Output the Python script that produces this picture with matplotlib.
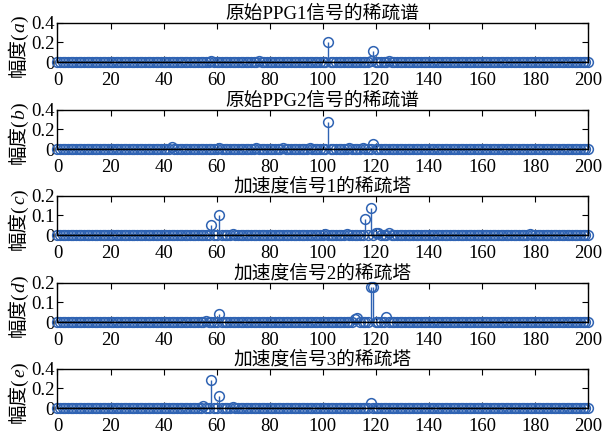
import numpy as np
import matplotlib
matplotlib.use('Agg')
import matplotlib.pyplot as plt
from matplotlib.ticker import FormatStrFormatter
from matplotlib.transforms import IdentityTransform

plt.rcParams['font.family'] = ['Liberation Serif', 'Noto Sans CJK SC']

n = np.arange(0, 201)

# sparse spectra: bin index -> amplitude
peaks_a = [58, 76, 102, 118, 119, 125]
amps_a = [0.015, 0.015, 0.2, 0.01, 0.11, 0.015]

peaks_b = [43, 61, 75, 85, 95, 102, 110, 115, 119]
amps_b = [0.02, 0.015, 0.015, 0.01, 0.015, 0.27, 0.01, 0.01, 0.05]

peaks_c = [15, 20, 58, 61, 66, 101, 109, 116, 118, 120, 121, 125, 131, 178]
amps_c = [0.003, 0.003, 0.05, 0.1, 0.004, 0.004, 0.006, 0.08, 0.14, 0.01, 0.01, 0.01, 0.003, 0.006]

peaks_d = [56, 61, 112, 113, 118, 119, 124]
amps_d = [0.005, 0.04, 0.015, 0.02, 0.18, 0.18, 0.025]

peaks_e = [55, 58, 61, 66, 118, 178]
amps_e = [0.02, 0.29, 0.12, 0.01, 0.05, 0.005]

titles = ['原始PPG1信号的稀疏谱', '原始PPG2信号的稀疏谱',
          '加速度信号1的稀疏塔', '加速度信号2的稀疏塔', '加速度信号3的稀疏塔']
letters = ['a', 'b', 'c', 'd', 'e']
ytops = [0.4, 0.4, 0.2, 0.2, 0.4]
ysteps = [0.2, 0.2, 0.1, 0.1, 0.2]
series = [(peaks_a, amps_a), (peaks_b, amps_b), (peaks_c, amps_c),
          (peaks_d, amps_d), (peaks_e, amps_e)]

blue = '#2f63b3'

fig = plt.figure(figsize=(6.05, 4.37), dpi=100)
renderer = fig.canvas.get_renderer()
bottoms = [0.858, 0.659, 0.462, 0.263, 0.066]


def rotated_label(ax, letter, x_px=24, size=14, shift=-4):
    # "幅度(x)" written bottom-to-top, with the letter in italics
    parts = [('幅度(', 'normal'), (letter, 'italic'), (')', 'normal')]
    texts = []
    for s, style in parts:
        t = fig.text(0, 0, s, fontsize=size, style=style, rotation=90,
                     rotation_mode='anchor', ha='left', va='baseline',
                     transform=IdentityTransform())
        texts.append(t)
    lengths = [t.get_window_extent(renderer).height for t in texts]
    box = ax.get_window_extent(renderer)
    y = (box.y0 + box.y1) / 2 - sum(lengths) / 2 + shift
    for t, L in zip(texts, lengths):
        t.set_position((x_px, y))
        y += L


for i in range(5):
    ax = fig.add_axes([0.095, bottoms[i], 0.877, 0.09])
    y = np.zeros(len(n))
    y[series[i][0]] = series[i][1]
    ml, sl, bl = ax.stem(n, y, basefmt='k-')
    plt.setp(ml, marker='o', markersize=7, markerfacecolor='none',
             markeredgecolor=blue, markeredgewidth=1.1, clip_on=False)
    plt.setp(sl, color=blue, linewidth=1.0)
    plt.setp(bl, linewidth=1.0)
    ax.set_xlim(0, 200)
    ax.set_ylim(0, ytops[i])
    ax.set_xticks(np.arange(0, 201, 20))
    ax.set_yticks(np.arange(0, ytops[i] + 1e-9, ysteps[i]))
    ax.yaxis.set_major_formatter(FormatStrFormatter('%g'))
    ax.tick_params(direction='in', top=True, right=True, length=4,
                   labelsize=13.5)
    ax.tick_params(axis='x', pad=7)
    ax.tick_params(axis='y', pad=2)
    ax.set_title(titles[i], fontsize=13.5, pad=3)
    for s in ax.spines.values():
        s.set_linewidth(1.0)
    rotated_label(ax, letters[i])

fig.savefig('out.png', dpi=100)
